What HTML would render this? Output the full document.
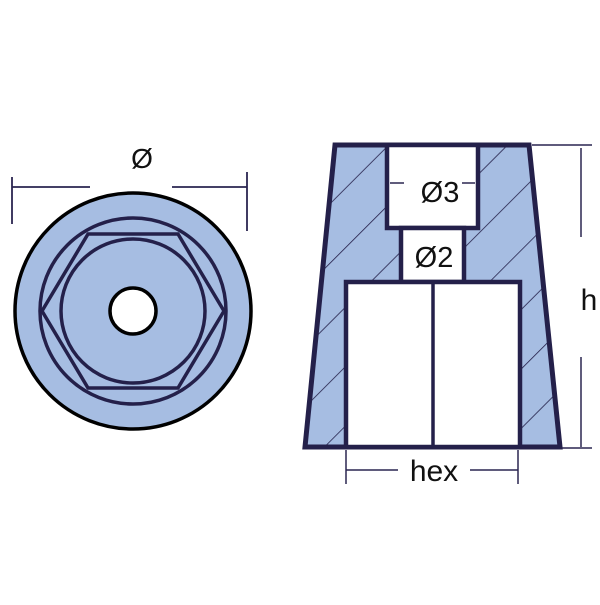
<!DOCTYPE html>
<html><head><style>html,body{margin:0;padding:0;background:#fff}</style></head>
<body>
<svg width="600" height="600" viewBox="0 0 600 600" xmlns="http://www.w3.org/2000/svg">
<defs>
<pattern id="h" patternUnits="userSpaceOnUse" width="42" height="42" patternTransform="rotate(45 333 196)">
<rect width="42" height="42" fill="#a6bde2"/>
<line x1="0" y1="0" x2="0" y2="42" stroke="#24204a" stroke-width="1.6"/>
</pattern>
</defs>
<!-- left view -->
<g stroke="#2a2550" stroke-width="1.8" fill="none">
<line x1="12" y1="187" x2="90" y2="187"/><line x1="172" y1="187" x2="247" y2="187"/>
<line x1="12" y1="177" x2="12" y2="224"/><line x1="247" y1="172" x2="247" y2="231"/>
</g>
<text x="142" y="168" font-family="Liberation Sans, sans-serif" font-size="28" text-anchor="middle" fill="#111">Ø</text>
<circle cx="133" cy="311" r="118" fill="#a6bde2" stroke="#000" stroke-width="3.5"/>
<g stroke="#24204a" stroke-width="3.5" fill="none">
<circle cx="133" cy="311" r="93"/>
<circle cx="133" cy="311" r="72"/>
<polygon points="42,311 88,234 178,234 224,311 178,388 88,388"/>
</g>
<circle cx="133" cy="311" r="23" fill="#fff" stroke="#000" stroke-width="3.5"/>
<!-- right view -->
<polygon points="335,145 529,145 560,447 305,447" fill="url(#h)" stroke="#24204a" stroke-width="5" stroke-linejoin="miter"/>
<g fill="#fff" stroke="#24204a" stroke-width="4.5">
<rect x="387" y="145" width="91" height="83"/>
<rect x="401" y="228" width="63" height="54"/>
<rect x="346" y="282" width="174" height="165"/>
</g>
<line x1="433" y1="282" x2="433" y2="447" stroke="#24204a" stroke-width="3.5"/>
<g stroke="#2a2550" stroke-width="1.5">
<line x1="390" y1="183" x2="404" y2="183"/><line x1="462" y1="183" x2="475" y2="183"/>
<line x1="532" y1="145" x2="592" y2="145"/><line x1="562" y1="448" x2="592" y2="448"/>
<line x1="581" y1="148" x2="581" y2="237"/><line x1="581" y1="357" x2="581" y2="447"/>
<line x1="346" y1="450" x2="346" y2="484"/><line x1="518" y1="450" x2="518" y2="484"/>
<line x1="346" y1="470" x2="398" y2="470"/><line x1="470" y1="470" x2="518" y2="470"/>
</g>
<g font-family="Liberation Sans, sans-serif" fill="#111" text-anchor="middle">
<text x="440" y="202" font-size="29">Ø3</text>
<text x="434" y="267" font-size="29">Ø2</text>
<text x="589" y="310" font-size="30">h</text>
<text x="434" y="481" font-size="30">hex</text>
</g>
</svg>
</body></html>
